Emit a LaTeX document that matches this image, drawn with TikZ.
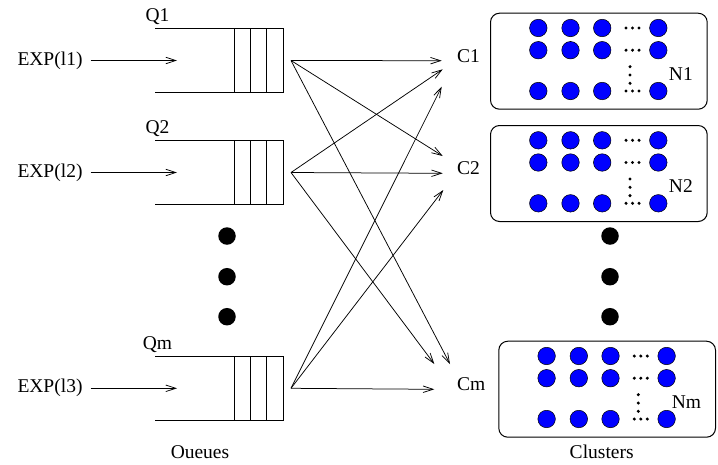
\documentclass[tikz,border=0pt]{standalone}
\usepackage{fontspec}
\setmainfont{Liberation Serif}
\usetikzlibrary{arrows.meta}
\begin{document}
\begin{tikzpicture}[x=1pt,y=-1pt,
  lbl/.style={font=\fontsize{19.5}{21}\selectfont, inner sep=0pt},
  ln/.style={line width=0.9pt, draw=black},
  arr/.style={line width=0.75pt, draw=black,
    -{Straight Barb[length=10pt,width=6.5pt,line width=0.75pt]}},
  nodedot/.style={circle, fill=blue, draw=black, line width=0.5pt,
    minimum size=17.5pt, inner sep=0pt},
  bigdot/.style={circle, fill=black, minimum size=17.5pt, inner sep=0pt},
  tinydot/.style={circle, fill=black, minimum size=3.4pt, inner sep=0pt},
  cluster/.style={draw=black, line width=1pt, rounded corners=9pt,
    minimum width=216.7pt, minimum height=96pt, anchor=north west, inner sep=0pt}]

\useasboundingbox (0,0) rectangle (718,464);

% ---------- queues ----------
\foreach \q/\y/\name/\rate in {1/60.5/Q1/{EXP(l1)}, 2/172.5/Q2/{EXP(l2)}, m/388.3/Qm/{EXP(l3)}} {
  \node[lbl] (lq\q) at (157.5,\y-43.8) {\name};
  \node[lbl] (e\q) at (50,\y) {\rate};
  \coordinate (in\q) at (177,\y);
  \coordinate (q\q) at (291,\y);
  \draw[arr] ([xshift=8pt]e\q.east) -- (in\q);
  % open channel and buffer
  \draw[ln] (155,\y-32.2) -- (234,\y-32.2);
  \draw[ln] (155,\y+32.2) -- (234,\y+32.2);
  \draw[ln] (234,\y-32.2) rectangle (283,\y+32.2);
  \draw[ln] (250.3,\y-32.2) -- (250.3,\y+32.2);
  \draw[ln] (266.7,\y-32.2) -- (266.7,\y+32.2);
}

% ---------- clusters ----------
\foreach \c/\x/\y/\cl/\nl in {1/490/12.7/C1/N1, 2/490/125/C2/N2, m/498.3/340.7/Cm/Nm} {
  \node[cluster] (k\c) at (\x,\y) {};
  \node[lbl, anchor=west] (lc\c) at (457,\y+43.5) {\cl};
  \node[lbl, anchor=east] (ln\c) at (\x+203,\y+61) {\nl};
  \foreach \r in {15.3,37.5,78.3} {
    \foreach \cx in {48.3,80.5,112.2,168.3}
      \node[nodedot] at (\x+\cx,\y+\r) {};
    \foreach \ex in {136,142.5,149}
      \node[tinydot] at (\x+\ex,\y+\r) {};
  }
  \foreach \vy in {54,62.3,70.6}
    \node[tinydot] at (\x+140,\y+\vy) {};
}

% ---------- vertical ellipses ----------
\foreach \by [count=\i] in {236,276.7,316.7} {
  \node[bigdot] (lb\i) at (227,\by) {};
  \node[bigdot] (rb\i) at (610,\by) {};
}

% ---------- dispatch arrows ----------
\coordinate (t11) at (441.7,60.7);
\coordinate (t21) at (442.7,69.3);
\coordinate (tm1) at (441.7,86.7);
\coordinate (t12) at (442.7,156);
\coordinate (t22) at (442.7,173.3);
\coordinate (tm2) at (443.3,190);
\coordinate (t2m) at (434.3,364);
\coordinate (t1m) at (450,364);
\coordinate (tmm) at (434.3,389.3);

\draw[arr] (q1) -- (t11);
\draw[arr] (q1) -- (t12);
\draw[arr] (q1) -- (t1m);
\draw[arr] (q2) -- (t21);
\draw[arr] (q2) -- (t22);
\draw[arr] (q2) -- (t2m);
\draw[arr] (qm) -- (tm1);
\draw[arr] (qm) -- (tm2);
\draw[arr] (qm) -- (tmm);

% ---------- captions ----------
\node[lbl] (cap1) at (200,452) {Oueues};
\node[lbl] (cap2) at (601.7,452) {Clusters};
\end{tikzpicture}
\end{document}
